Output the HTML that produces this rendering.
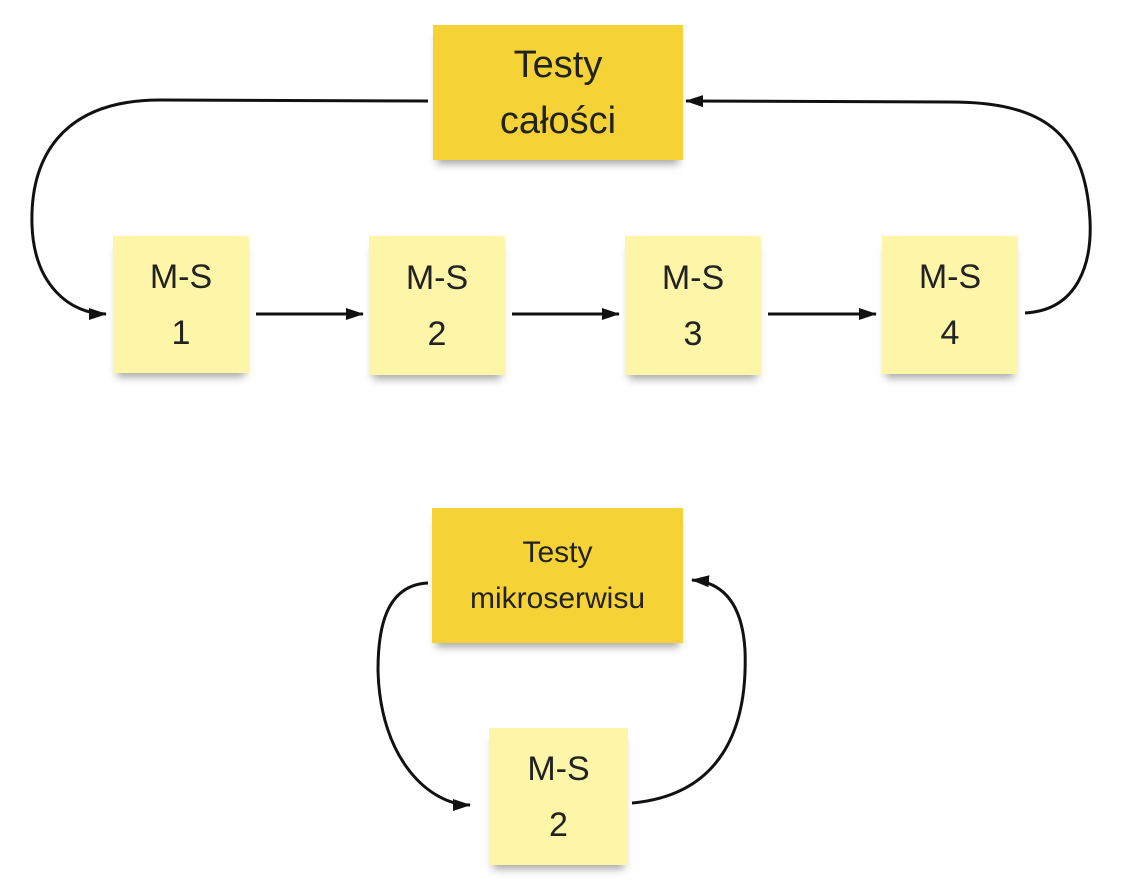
<!DOCTYPE html>
<html><head><meta charset="utf-8"><style>
body{margin:0;width:1124px;height:889px;background:#fff;position:relative;overflow:hidden;font-family:"Liberation Sans","DejaVu Sans",sans-serif;}
.n{position:absolute;display:flex;align-items:center;justify-content:center;text-align:center;color:#222;box-shadow:0 8px 8px -4px rgba(0,0,0,0.35);}
.n>div{width:100%;text-align:center;}
.s{background:#fdf5a8;font-size:34px;line-height:56px;}
.b{background:#f5d235;}
</style></head><body>
<svg width="1124" height="889" style="position:absolute;left:0;top:0">
<defs><marker id="m" markerWidth="18" markerHeight="14" refX="17" refY="7" orient="auto" markerUnits="userSpaceOnUse"><path d="M0,1 L18,7 L0,13 Z" fill="#111"/></marker></defs>
<g fill="none" stroke="#111" stroke-width="3">
<path d="M428,101 L160,100 C60,100 30,160 32,225 C34,285 70,314 106,314" marker-end="url(#m)"/>
<path d="M1025,313 C1080,310 1092,260 1090,220 C1085,130 1040,102 950,102 L686,101" marker-end="url(#m)"/>
<path d="M256,314 L363,314" marker-end="url(#m)"/>
<path d="M512,314 L619,314" marker-end="url(#m)"/>
<path d="M768,314 L876,314" marker-end="url(#m)"/>
<path d="M428,583 C385,585 378,630 378,670 C380,760 430,805 470,805" marker-end="url(#m)"/>
<path d="M632,803 C720,795 748,730 745,650 C742,600 720,582 692,580" marker-end="url(#m)"/>
</g></svg>
<div class="n b" style="left:433px;top:25px;width:250px;height:135px;font-size:38px;line-height:56px"><div>Testy<br>całości</div></div>
<div class="n s" style="left:113px;top:236px;width:136px;height:137px"><div>M-S<br>1</div></div>
<div class="n s" style="left:369px;top:236px;width:136px;height:139px"><div>M-S<br>2</div></div>
<div class="n s" style="left:625px;top:236px;width:136px;height:139px"><div>M-S<br>3</div></div>
<div class="n s" style="left:882px;top:236px;width:136px;height:138px"><div>M-S<br>4</div></div>
<div class="n b" style="left:432px;top:508px;width:251px;height:135px;font-size:30px;line-height:46px"><div>Testy<br>mikroserwisu</div></div>
<div class="n s" style="left:489px;top:728px;width:139px;height:137px"><div>M-S<br>2</div></div>
</body></html>
